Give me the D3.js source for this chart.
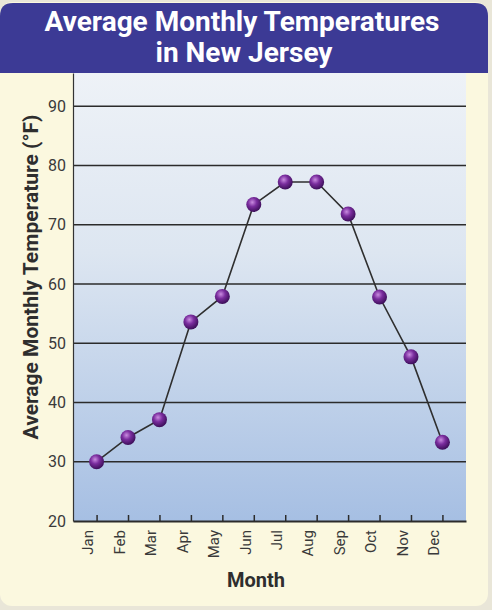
<!DOCTYPE html>
<html>
<head>
<meta charset="utf-8">
<script src="https://cdn.jsdelivr.net/npm/d3@7"></script>
<style>
  body { margin: 0; background: #e9e6d8; }
  text { font-family: "Roboto", "Liberation Sans", sans-serif; }
</style>
</head>
<body>
<script>
var months = ["Jan", "Feb", "Mar", "Apr", "May", "Jun", "Jul", "Aug", "Sep", "Oct", "Nov", "Dec"];
var temps = [30.0, 34.1, 37.1, 53.6, 57.9, 73.4, 77.2, 77.2, 71.8, 57.8, 47.7, 33.3];
var yTicks = [20, 30, 40, 50, 60, 70, 80, 90];

var svgWidth = 492;
var svgHeight = 610;

var margin = { top: 73, right: 26, bottom: 89, left: 73 };
var chartWidth = svgWidth - margin.left - margin.right;
var chartHeight = svgHeight - margin.top - margin.bottom;

var svg = d3.select("body").append("svg")
    .attr("width", svgWidth)
    .attr("height", svgHeight);

var defs = svg.append("defs");
var grad = defs.append("linearGradient")
    .attr("id", "plotBg")
    .attr("x1", 0).attr("y1", 0).attr("x2", 0).attr("y2", 1);
grad.append("stop").attr("offset", "0%").attr("stop-color", "#eef2f7");
grad.append("stop").attr("offset", "40%").attr("stop-color", "#dde6f1");
grad.append("stop").attr("offset", "100%").attr("stop-color", "#a6bfe3");

var ball = defs.append("radialGradient")
    .attr("id", "ball")
    .attr("cx", "40%").attr("cy", "35%").attr("r", "65%");
ball.append("stop").attr("offset", "0%").attr("stop-color", "#c98be0");
ball.append("stop").attr("offset", "45%").attr("stop-color", "#7a2d9e");
ball.append("stop").attr("offset", "100%").attr("stop-color", "#3d0f5a");

// card background
svg.append("rect")
    .attr("x", 0).attr("y", 2)
    .attr("width", 488).attr("height", 604)
    .attr("rx", 12)
    .attr("fill", "#fbf8df");

// header band
svg.append("path")
    .attr("d", "M0,73 L0,16 Q0,3 13,3 L475,3 Q488,3 488,16 L488,73 Z")
    .attr("fill", "#3c3a95");

svg.append("text")
    .attr("x", 242).attr("y", 31)
    .attr("text-anchor", "middle")
    .attr("fill", "#ffffff")
    .attr("font-size", 28)
    .attr("font-weight", "bold")
    .text("Average Monthly Temperatures");

svg.append("text")
    .attr("x", 244).attr("y", 62)
    .attr("text-anchor", "middle")
    .attr("fill", "#ffffff")
    .attr("font-size", 28)
    .attr("font-weight", "bold")
    .text("in New Jersey");

var chartGroup = svg.append("g")
    .attr("transform", `translate(${margin.left}, ${margin.top})`);

var xScale = d3.scalePoint()
    .domain(months)
    .range([0, chartWidth])
    .padding(0.75);

var yScale = d3.scaleLinear()
    .domain([20, 95.6])
    .range([chartHeight, 0]);

chartGroup.append("rect")
    .attr("width", chartWidth)
    .attr("height", chartHeight)
    .attr("fill", "url(#plotBg)");

// gridlines
chartGroup.selectAll(".grid")
    .data(yTicks.slice(1))
    .enter()
    .append("line")
    .attr("x1", 0)
    .attr("x2", chartWidth)
    .attr("y1", d => yScale(d))
    .attr("y2", d => yScale(d))
    .attr("stroke", "#2b2b2b")
    .attr("stroke-width", 1.6);

// y axis
var yAxis = chartGroup.append("g")
    .call(d3.axisLeft(yScale).tickValues(yTicks).tickSize(0).tickPadding(7));
yAxis.select(".domain").attr("stroke", "#333").attr("stroke-width", 1.2);
yAxis.selectAll("text")
    .attr("font-size", 16)
    .attr("fill", "#3a3a3a")
    .attr("font-family", "Roboto, sans-serif");

// x axis, ticks point up into the plot
var xAxis = chartGroup.append("g")
    .attr("transform", `translate(0,${chartHeight})`)
    .call(d3.axisBottom(xScale).tickSizeInner(-6).tickSizeOuter(0).tickPadding(9));
xAxis.select(".domain").attr("stroke", "#2b2b2b").attr("stroke-width", 2);
xAxis.selectAll(".tick line").attr("stroke", "#2b2b2b").attr("stroke-width", 1.5);
xAxis.selectAll("text")
    .attr("font-size", 15)
    .attr("fill", "#3a3a3a")
    .attr("font-family", "Roboto, sans-serif")
    .attr("text-anchor", "end")
    .attr("dy", "0.35em")
    .attr("transform", "rotate(-90) translate(-9,-9)")
    .attr("x", 0).attr("y", 0);

// line and markers
var line = d3.line()
    .x((d, i) => xScale(months[i]))
    .y(d => yScale(d));

chartGroup.append("path")
    .datum(temps)
    .attr("d", line)
    .attr("fill", "none")
    .attr("stroke", "#2f2f2f")
    .attr("stroke-width", 1.6);

chartGroup.selectAll(".pt")
    .data(temps)
    .enter()
    .append("circle")
    .attr("cx", (d, i) => xScale(months[i]))
    .attr("cy", d => yScale(d))
    .attr("r", 7.5)
    .attr("fill", "url(#ball)");

// axis titles
svg.append("text")
    .attr("x", 256).attr("y", 587)
    .attr("text-anchor", "middle")
    .attr("font-size", 20)
    .attr("font-weight", "bold")
    .attr("fill", "#2e2e2e")
    .text("Month");

svg.append("text")
    .attr("transform", "translate(38,277) rotate(-90)")
    .attr("text-anchor", "middle")
    .attr("font-size", 21)
    .attr("font-weight", "bold")
    .attr("fill", "#2e2e2e")
    .text("Average Monthly Temperature (°F)");
</script>
</body>
</html>
